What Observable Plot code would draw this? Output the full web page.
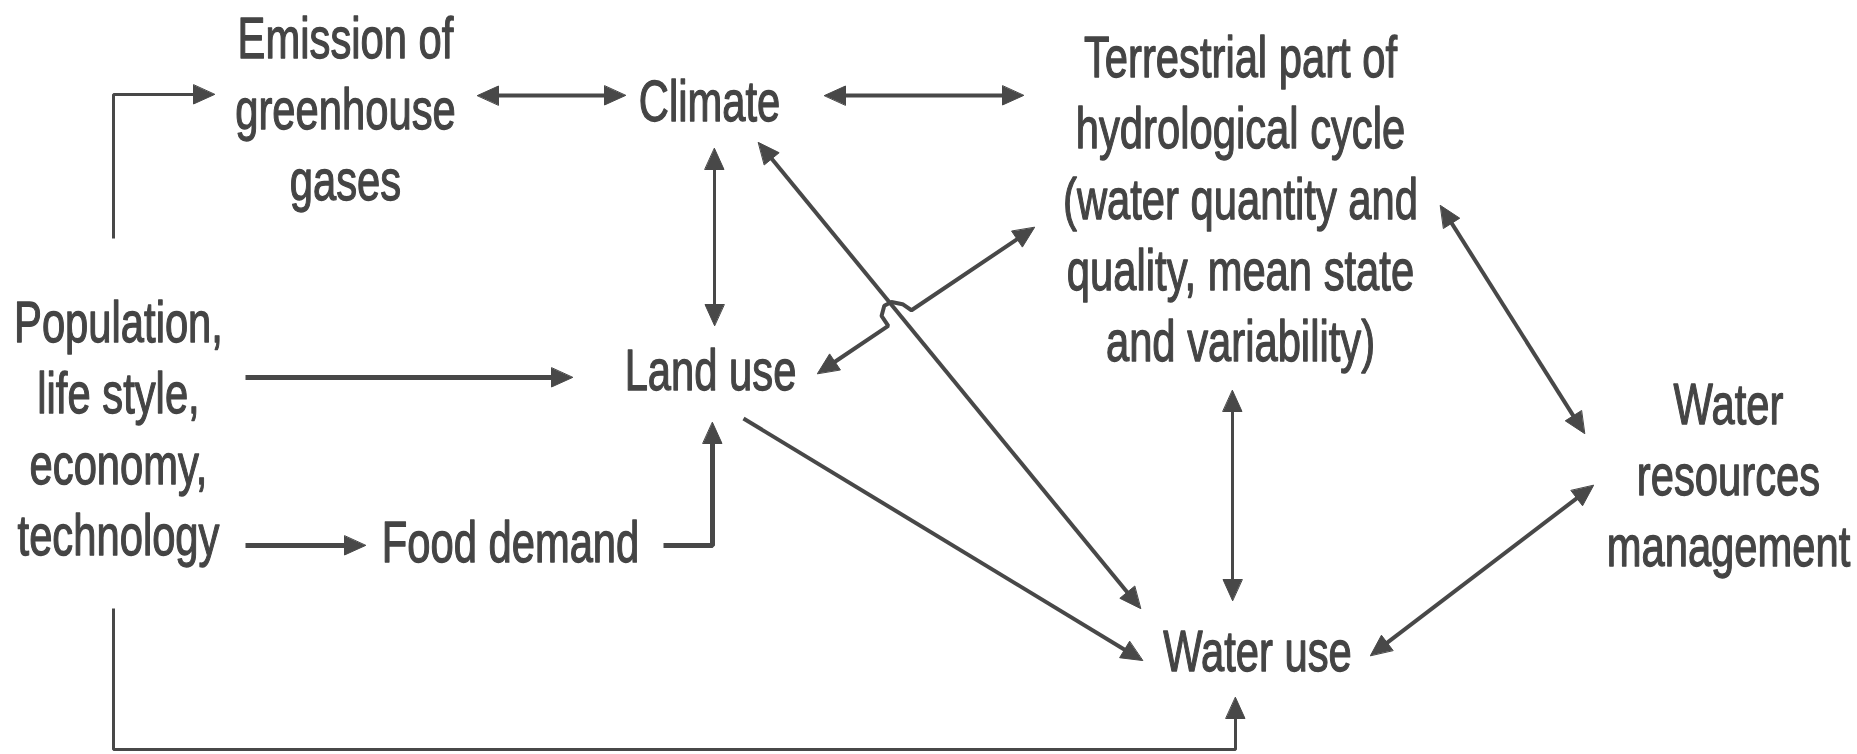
<!DOCTYPE html>
<html>
<head>
<meta charset="utf-8">
<script src="https://cdn.jsdelivr.net/npm/d3@7"></script>
<script src="https://cdn.jsdelivr.net/npm/@observablehq/plot@0.6"></script>
<style>
  html, body { margin: 0; padding: 0; background: #ffffff; }
  #chart { width: 1857px; height: 754px; }
</style>
</head>
<body>
<div id="chart"></div>
<script>
// ---- Diagram content -------------------------------------------------------
const labels = [
  "Emission of\ngreenhouse\ngases",
  "Climate",
  "Terrestrial part of\nhydrological cycle\n(water quantity and\nquality, mean state\nand variability)",
  "Population,\nlife style,\neconomy,\ntechnology",
  "Land use",
  "Food demand",
  "Water use",
  "Water\nresources\nmanagement"
];
const labelX = [345, 709, 1240, 118, 710, 510, 1257, 1728];
const labelY = [106, 98, 196, 425, 367, 539, 648, 472];

// connectors: way-points in diagram units, and which ends carry arrowheads
const linkPoints = [
  [[113, 238], [113, 94], [214, 94]],                 // population -> emission
  [[477, 95], [625, 95]],                             // emission <-> climate
  [[824, 95], [1023, 95]],                            // climate <-> terrestrial
  [[714, 148], [714, 325]],                           // climate <-> land use
  [[758, 142], [1140, 608]],                          // climate <-> water use
  [[817, 373], [1034, 227]],                          // land use <-> terrestrial (hops)
  [[245, 377], [572, 377]],                           // population -> land use
  [[245, 545], [365, 545]],                           // population -> food demand
  [[663, 545], [712, 545], [712, 422]],               // food demand -> land use
  [[743, 418], [1142, 660]],                          // land use -> water use
  [[1232, 390], [1232, 600]],                         // terrestrial <-> water use
  [[1440, 205], [1584, 433]],                         // terrestrial <-> water resources mgmt
  [[1370, 655], [1593, 485]],                         // water use <-> water resources mgmt
  [[113, 608], [113, 749], [1235, 749], [1235, 697]]  // population -> water use
];
const linkHeads = ["end", "both", "both", "both", "both", "both", "end", "end", "end", "end", "both", "both", "both", "end"];
const hopLink = 5, hopOver = 4;

// ---- Styling ---------------------------------------------------------------
const ink = "#484848";
const thinLinks = [0, 3, 10, 13];
const thickLinks = [6, 7, 8];
const headLen = 21, headHalf = 9.5;
const textScaleX = 0.72;

// ---- Geometry helpers ------------------------------------------------------
function unit(a, b) { const dx = b[0] - a[0], dy = b[1] - a[1], l = Math.hypot(dx, dy); return [dx / l, dy / l]; }
function intersect(p1, p2, p3, p4) {
  const d = (p2[0]-p1[0])*(p4[1]-p3[1]) - (p2[1]-p1[1])*(p4[0]-p3[0]);
  const t = ((p3[0]-p1[0])*(p4[1]-p3[1]) - (p3[1]-p1[1])*(p4[0]-p3[0])) / d;
  return [p1[0] + t*(p2[0]-p1[0]), p1[1] + t*(p2[1]-p1[1])];
}

const lineRows = [];
const headRows = [];
linkPoints.forEach((pts0, i) => {
  let pts = pts0.map(p => p.slice());
  const heads = linkHeads[i];
  const addHead = (tip, from, key) => {
    const u = unit(from, tip), n = [-u[1], u[0]];
    const base = [tip[0] - headLen*u[0], tip[1] - headLen*u[1]];
    headRows.push({id: key, x: tip[0], y: tip[1]});
    headRows.push({id: key, x: base[0] + headHalf*n[0], y: base[1] + headHalf*n[1]});
    headRows.push({id: key, x: base[0] - headHalf*n[0], y: base[1] - headHalf*n[1]});
    return [tip[0] - (headLen - 4)*u[0], tip[1] - (headLen - 4)*u[1]];
  };
  if (heads === "end" || heads === "both") {
    const k = pts.length - 1;
    pts[k] = addHead(pts[k], pts[k-1], i + "e");
  }
  if (heads === "start" || heads === "both") {
    pts[0] = addHead(pts[0], pts[1], i + "s");
  }
  if (i === hopLink) {
    const c = intersect(pts0[0], pts0[1], linkPoints[hopOver][0], linkPoints[hopOver][1]);
    const u = unit(pts0[0], pts0[1]);
    let n = [u[1], -u[0]]; if (n[1] > 0) n = [-n[0], -n[1]];
    const P = (a, b) => [c[0] + a*u[0] + b*n[0], c[1] + a*u[1] + b*n[1]];
    const hop = [P(-16, 0), P(-16, 12), P(-8, 19), P(0, 18), P(8, 10), P(12, 0)];
    pts = [pts[0], ...hop, pts[1]];
  }
  pts.forEach(p => lineRows.push({id: i, x: p[0], y: p[1]}));
});

const groupOf = id => thinLinks.includes(id) ? "thin" : thickLinks.includes(id) ? "thick" : "medium";
const widths = {thin: 3, medium: 4, thick: 5};

const lineMarks = Object.keys(widths).map(g =>
  Plot.line(lineRows.filter(d => groupOf(d.id) === g), {
    x: "x", y: "y", z: "id", stroke: ink, strokeWidth: widths[g],
    strokeLinejoin: "miter", strokeLinecap: "butt"
  })
);

const chart = Plot.plot({
  width: 1857,
  height: 754,
  margin: 0,
  x: {domain: [0, 1857], range: [0, 1857], axis: null},
  y: {domain: [0, 754], range: [0, 754], axis: null},
  style: {background: "#ffffff", overflow: "visible"},
  marks: [
    ...lineMarks,
    Plot.line(headRows, {x: "x", y: "y", z: "id", fill: ink, stroke: ink, strokeWidth: 1, curve: "linear-closed"}),
    Plot.text(labels, {
      x: (d, i) => labelX[i],
      y: (d, i) => labelY[i],
      text: d => d,
      fontSize: 58,
      lineHeight: 1.225,
      fontFamily: "'Liberation Sans', Arial, Helvetica, sans-serif",
      fill: "#444444",
      stroke: "#444444",
      strokeWidth: 1.3,
      textAnchor: "middle",
      lineAnchor: "middle"
    })
  ]
});

chart.querySelectorAll('g[aria-label="text"] text').forEach(t => {
  const tr = t.getAttribute("transform");
  if (tr) {
    t.setAttribute("transform", tr + ` scale(${textScaleX},1)`);
  } else {
    const x = +(t.getAttribute("x") || 0), y = +(t.getAttribute("y") || 0);
    t.setAttribute("transform", `translate(${x},${y}) scale(${textScaleX},1) translate(${-x},${-y})`);
  }
});

document.getElementById("chart").appendChild(chart);
</script>
</body>
</html>
